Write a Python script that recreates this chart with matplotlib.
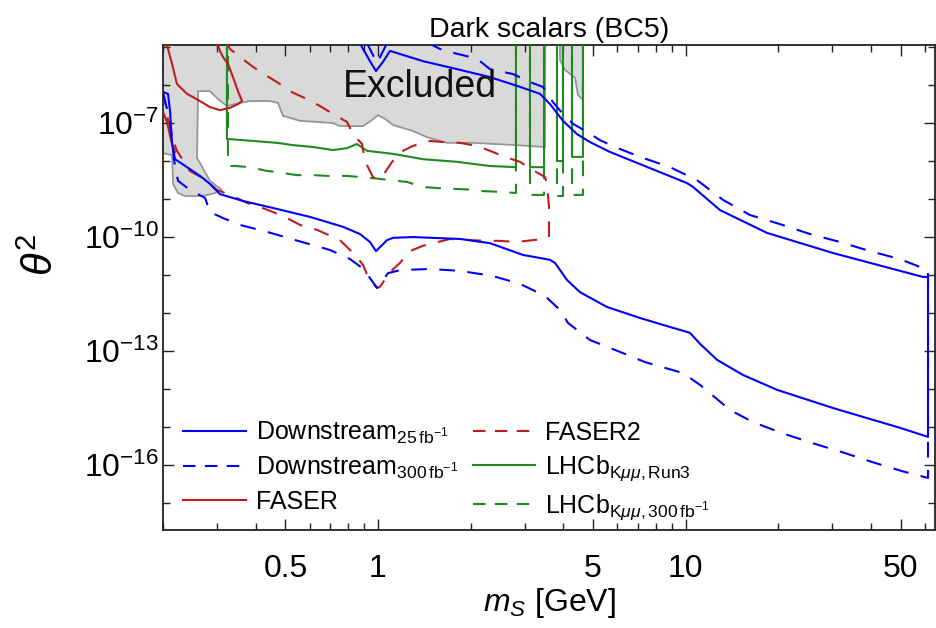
import numpy as np
import matplotlib
matplotlib.use("Agg")
import matplotlib.pyplot as plt

plt.rcParams['font.family'] = ['Liberation Sans', 'DejaVu Sans']
plt.rcParams['mathtext.fontset'] = 'custom'
plt.rcParams['mathtext.rm'] = 'Liberation Sans'
plt.rcParams['mathtext.it'] = 'Liberation Sans:italic'
plt.rcParams['mathtext.bf'] = 'Liberation Sans:bold'

# ---- sensitivity contours: scalar mass m_S [GeV] and log10(theta^2) ----
ds25_m = [0.200, 0.2076, 0.2108, 0.214, 0.2188, 0.2394, 0.2638, 0.2843, 0.3064, 0.364,
          0.4694, 0.601, 0.7695, 0.8739, 0.9419, 0.9851, 1.070, 1.119, 1.300, 1.848,
          2.312, 2.960, 3.624, 3.762, 4.116, 4.536, 5.552, 7.109, 9.099, 10.33,
          11.14, 12.65, 15.37, 19.82, 30.15, 49.77, 61.4, 61.4, 59.14, 30.15,
          18.39, 12.94, 10.57, 10.11, 5.678, 4.889, 4.436, 3.994, 3.624, 3.363,
          2.830, 2.312, 1.806, 1.400, 1.094, 1.038, 0.985, 0.942, 0.887, 0.861]
ds25_lt = [-6.19, -6.24, -6.69, -7.56, -7.96, -8.17, -8.40, -8.61, -8.88, -9.06,
           -9.27, -9.48, -9.74, -9.93, -10.14, -10.38, -10.09, -10.03, -10.01, -10.06,
           -10.17, -10.48, -10.61, -10.69, -11.14, -11.46, -11.85, -12.14, -12.40, -12.53,
           -12.82, -13.24, -13.64, -14.03, -14.51, -15.03, -15.27, -11.06, -11.06, -10.43,
           -9.90, -9.30, -8.69, -8.59, -7.77, -7.51, -7.30, -6.95, -6.51, -6.24,
           -6.03, -5.80, -5.59, -5.38, -5.11, -5.40, -5.64, -5.38, -5.01, -4.80]

ds300_m = [0.200, 0.2108, 0.2172, 0.2238, 0.2447, 0.274, 0.2843, 0.3133, 0.3559, 0.439,
           0.5495, 0.6982, 0.811, 0.8871, 0.9419, 0.9925, 1.078, 1.179, 1.476, 1.848,
           2.347, 2.894, 3.491, 3.906, 4.147, 4.889, 5.895, 7.38, 9.806, 11.14,
           13.94, 16.56, 20.58, 25.76, 32.25, 40.36, 50.52, 61.4, 61.4, 49.77,
           39.77, 31.77, 25.38, 20.27, 16.19, 13.23, 10.89, 8.897, 7.109, 5.895,
           5.270, 4.780, 4.305, 3.994, 3.706, 3.439, 3.120, 2.747, 2.312, 2.146,
           1.991, 1.714, 1.591, 1.48, 1.18, 1.062, 0.9925, 0.928, 0.85]
ds300_lt = [-6.24, -6.93, -7.98, -8.53, -8.77, -8.98, -9.35, -9.51, -9.69, -9.88,
            -10.11, -10.35, -10.59, -10.82, -11.09, -11.35, -10.96, -10.88, -10.85, -10.90,
            -11.03, -11.24, -11.56, -11.93, -12.27, -12.72, -12.98, -13.30, -13.59, -13.90,
            -14.56, -14.88, -15.17, -15.43, -15.67, -15.93, -16.17, -16.35, -10.88, -10.59,
            -10.38, -10.14, -9.93, -9.67, -9.43, -9.03, -8.51, -8.17, -7.90, -7.64,
            -7.46, -7.24, -7.03, -6.77, -6.46, -6.06, -5.93, -5.72, -5.59, -5.38,
            -5.27, -5.14, -5.06, -4.93, -4.85, -4.96, -5.43, -4.96, -4.80]

faser_m = [0.204, 0.214, 0.222, 0.2394, 0.2638, 0.2843, 0.3064, 0.330, 0.3506, 0.3613,
           0.3506, 0.3377, 0.3253, 0.3133, 0.3064, 0.2973]
faser_lt = [-4.82, -5.45, -5.98, -6.24, -6.43, -6.59, -6.67, -6.61, -6.51, -6.43,
            -6.17, -5.80, -5.45, -5.27, -5.11, -4.82]
faser_low_m = [0.200, 0.2061, 0.2124, 0.2188]
faser_low_lt = [-6.72, -6.98, -7.46, -7.77]

faser2_m = [0.3204, 0.330, 0.3559, 0.3923, 0.4356, 0.480, 0.5173, 0.5876, 0.6476, 0.7141,
            0.7929, 0.8292, 0.8871, 0.9072, 0.9632, 0.9925, 1.030, 1.111, 1.206, 1.300,
            1.476, 1.627, 1.848, 2.098, 2.312, 2.588, 2.894, 3.191, 3.491, 3.544,
            3.597, 3.597, 3.544, 3.191, 2.830, 2.493, 2.261, 1.991, 1.714, 1.400,
            1.271, 1.179, 1.094, 1.015, 0.9925, 0.9279, 0.8938, 0.8418, 0.7524, 0.6333,
            0.5577, 0.5059, 0.4556, 0.4134, 0.3751, 0.330, 0.2996, 0.2698, 0.2447, 0.222,
            0.2157, 0.2076, 0.203, 0.200]
faser2_lt = [-4.82, -5.06, -5.27, -5.53, -5.77, -5.98, -6.17, -6.38, -6.56, -6.77,
             -6.98, -7.30, -7.56, -8.01, -8.43, -8.48, -8.43, -8.03, -7.74, -7.61,
             -7.48, -7.51, -7.53, -7.61, -7.74, -7.90, -8.03, -8.25, -8.43, -8.61,
             -9.22, -10.01, -10.06, -10.09, -10.14, -10.11, -10.11, -10.09, -10.06, -10.24,
             -10.38, -10.69, -10.93, -11.32, -11.35, -11.06, -10.74, -10.48, -10.09, -9.82,
             -9.69, -9.51, -9.35, -9.22, -9.11, -8.90, -8.77, -8.46, -8.27, -7.74,
             -7.46, -6.93, -6.40, -6.19]

# LHCb K->mu mu reach: vetoed mass windows push the contour out of the frame
lhcb3_m = [0.3228, 0.3228, 0.3253, 0.3923, 0.4694, 0.5291, 0.6147, 0.7141, 0.7929, 0.8546,
           0.921, 1.119, 1.400, 1.806, 2.312, 2.809, 2.809, np.nan,
           3.120, 3.120, 3.465, 3.465, np.nan,
           3.819, 3.819, 3.994, 3.994, np.nan,
           4.273, 4.273, 4.639, 4.639]
lhcb3_lt = [-4.5, -7.43, -7.43, -7.48, -7.53, -7.59, -7.64, -7.72, -7.67, -7.56,
            -7.74, -7.82, -7.96, -8.03, -8.14, -8.17, -4.5, np.nan,
            -4.5, -8.17, -8.17, -4.5, np.nan,
            -4.5, -8.01, -8.01, -4.5, np.nan,
            -4.5, -7.90, -7.90, -4.5]

lhcb300_m = [0.3253, 0.3253, 0.3428, 0.3836, 0.4356, 0.4694, 0.5452, 0.6147, 0.6876, 0.7929,
             0.8739, 0.9632, 1.094, 1.243, 1.400, 1.555, 1.753, 1.991, 2.194, 2.493,
             2.809, 2.809, np.nan,
             3.120, 3.120, 3.465, 3.465, np.nan,
             3.819, 3.819, 3.994, 3.994, np.nan,
             4.273, 4.273, 4.639, 4.639]
lhcb300_lt = [-4.5, -8.14, -8.14, -8.17, -8.27, -8.30, -8.38, -8.38, -8.40, -8.40,
              -8.43, -8.46, -8.51, -8.56, -8.69, -8.72, -8.74, -8.76, -8.80, -8.82,
              -8.85, -4.5, np.nan,
              -4.5, -8.90, -8.90, -4.5, np.nan,
              -4.5, -8.93, -8.93, -4.5, np.nan,
              -4.5, -8.90, -8.90, -4.5]

# existing exclusion (shaded)
excl_m = [0.200, 0.214, 0.2157, 0.2238, 0.2359, 0.2698, 0.2952, 0.311, 0.2843, 0.274,
          0.2638, 0.258, 0.260, 0.2843, 0.302, 0.3228, 0.3559, 0.3836, 0.4456, 0.4729,
          0.491, 0.5577, 0.7141, 0.7524, 0.8938, 0.956, 1.0, 1.054, 1.119, 1.300,
          1.443, 1.676, 2.036, 2.809, 3.491, 3.50]
excl_lt = [-7.80, -7.85, -8.61, -8.85, -8.93, -8.93, -8.85, -8.77, -8.53, -8.30,
           -8.06, -7.93, -6.17, -6.17, -6.38, -6.56, -6.48, -6.43, -6.43, -6.48,
           -6.82, -6.95, -7.01, -7.09, -7.09, -6.93, -6.80, -6.90, -7.06, -7.22,
           -7.38, -7.53, -7.53, -7.59, -7.64, -4.5]
excl2_m = [3.906, 3.906, 4.055, 4.369, 4.469, 4.639, 4.639]
excl2_lt = [-4.5, -5.35, -5.61, -5.82, -6.27, -6.40, -4.5]

x_major = [0.5, 1, 5, 10, 50]
x_major_labels = ['0.5', '1', '5', '10', '50']
y_major_exp = [-7, -10, -13, -16]

BLUE = '#0000ff'
RED = '#bf1d1d'
GREEN = '#1f8a1f'
FILL = '#d9d9d9'
EDGE = '#969696'

fig = plt.figure(figsize=(9.36, 6.28), dpi=100)
ax = fig.add_axes([163 / 936, 1 - 530 / 628, (935 - 163) / 936, (530 - 45) / 628])
ax.set_xscale('log')
ax.set_yscale('log')
ax.set_xlim(0.2, 64.7)
ax.set_ylim(10 ** -17.72, 10 ** -4.955)

def pw(v):
    return 10.0 ** np.asarray(v, dtype=float)

# shaded exclusion region closed along the top of the frame
for m, lt in ((excl_m, excl_lt), (excl2_m, excl2_lt)):
    pm = [m[0]] + list(m) + [m[-1]]
    pl = [-4.5] + list(lt) + [-4.5]
    ax.fill(pm, pw(pl), color=FILL, lw=0, zorder=1)
    ax.plot(m, pw(lt), color=EDGE, lw=1.3, zorder=2)

dash = (0, (7.5, 6))
lw = 1.5
ax.plot(ds25_m, pw(ds25_lt), color=BLUE, lw=lw, zorder=5)
ax.plot(ds300_m, pw(ds300_lt), color=BLUE, lw=lw, ls=dash, zorder=5)
ax.plot(faser_m, pw(faser_lt), color=RED, lw=lw, zorder=4)
ax.plot(faser_low_m, pw(faser_low_lt), color=RED, lw=lw, zorder=4)
ax.plot(faser2_m, pw(faser2_lt), color=RED, lw=lw, ls=dash, zorder=4)
ax.plot(lhcb3_m, pw(lhcb3_lt), color=GREEN, lw=lw, zorder=3)
ax.plot(lhcb300_m, pw(lhcb300_lt), color=GREEN, lw=lw, ls=dash, zorder=3)

ax.text(1.369, 10 ** -6.33, 'Excluded', fontsize=27, ha='center', va='baseline',
        color='#111111', zorder=6)

# legend built from proxy lines
leg_dash = (0, (6, 4.5))
hs = [
    plt.Line2D([], [], color=BLUE, lw=lw),
    plt.Line2D([], [], color=BLUE, lw=lw, ls=leg_dash),
    plt.Line2D([], [], color=RED, lw=lw),
    plt.Line2D([], [], color=RED, lw=lw, ls=leg_dash),
    plt.Line2D([], [], color=GREEN, lw=lw),
    plt.Line2D([], [], color=GREEN, lw=lw, ls=leg_dash),
]
labels = [
    r'Downstream$_{25\,\mathrm{fb}^{-1}}$',
    r'Downstream$_{300\,\mathrm{fb}^{-1}}$',
    'FASER',
    'FASER2',
    r'LHCb$_{\mathrm{K}\mu\mu,\mathrm{Run3}}$',
    r'LHCb$_{\mathrm{K}\mu\mu,300\,\mathrm{fb}^{-1}}$',
]
ax.legend(hs, labels, ncol=2, loc='upper left', bbox_to_anchor=(0.013, 0.248),
          frameon=False, fontsize=18, handlelength=2.5, handletextpad=0.4,
          columnspacing=0.6, labelspacing=0.35, borderaxespad=0.0)

# ticks
ax.set_xticks(x_major)
ax.set_xticklabels(x_major_labels)
x_minor = [v * d for d in (0.1, 1, 10) for v in range(2, 10)]
ax.set_xticks([v for v in x_minor if 0.2 <= v <= 64.7 and v not in x_major], minor=True)
ax.set_xticklabels([], minor=True)
ax.set_yticks([10.0 ** e for e in y_major_exp])
ax.set_yticklabels([r'$10^{%d}$' % e for e in y_major_exp])
ax.set_yticks([10.0 ** e for e in range(-17, -4) if e not in y_major_exp], minor=True)
ax.set_yticklabels([], minor=True)
ax.tick_params(which='both', direction='in', top=True, right=True, labelsize=23,
               width=1.0, color='#222222')
ax.tick_params(which='major', length=8)
ax.tick_params(which='minor', length=5)
ax.tick_params(axis='x', which='major', pad=17)
ax.tick_params(axis='y', which='major', pad=3)
for s in ax.spines.values():
    s.set_linewidth(1.3)
    s.set_color('#222222')

ax.set_xlabel(r'$m_S$ [GeV]', fontsize=23, labelpad=2)
ax.set_ylabel(r'$\theta^2$', fontsize=30)
ax.yaxis.set_label_coords(-0.131, 0.567)
ax.set_title('Dark scalars (BC5)', fontsize=20.5, pad=6)

fig.savefig('out.png', dpi=100)
